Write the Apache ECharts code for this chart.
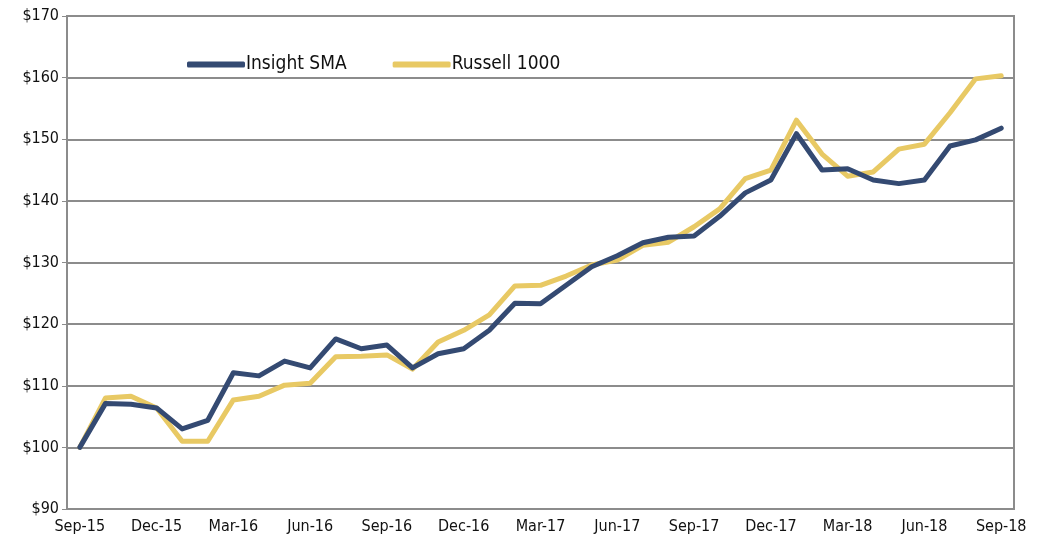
<!DOCTYPE html>
<html>
<head>
<meta charset="utf-8">
<script src="https://cdn.jsdelivr.net/npm/echarts@6/dist/echarts.min.js"></script>
<style>
  html, body { margin: 0; padding: 0; background: #fff; }
  #main { width: 1044px; height: 541px; }
</style>
</head>
<body>
<div id="main"></div>
<script>
var months = [
    'Sep-15', 'Oct-15', 'Nov-15', 'Dec-15', 'Jan-16', 'Feb-16', 'Mar-16', 'Apr-16', 'May-16',
    'Jun-16', 'Jul-16', 'Aug-16', 'Sep-16', 'Oct-16', 'Nov-16', 'Dec-16', 'Jan-17', 'Feb-17',
    'Mar-17', 'Apr-17', 'May-17', 'Jun-17', 'Jul-17', 'Aug-17', 'Sep-17', 'Oct-17', 'Nov-17',
    'Dec-17', 'Jan-18', 'Feb-18', 'Mar-18', 'Apr-18', 'May-18', 'Jun-18', 'Jul-18', 'Aug-18',
    'Sep-18'
];

var insightSma = [
    100, 107.1, 107.0, 106.4, 103.0, 104.4, 112.1, 111.6, 114.0,
    112.9, 117.6, 116.0, 116.6, 112.9, 115.2, 116.0, 119.0, 123.4,
    123.3, 126.3, 129.3, 131.1, 133.2, 134.1, 134.3, 137.5, 141.3,
    143.4, 150.9, 145.0, 145.2, 143.4, 142.8, 143.4, 148.9, 149.9,
    151.8
];

var russell1000 = [
    100, 108.0, 108.3, 106.4, 101.0, 101.0, 107.7, 108.3, 110.1,
    110.4, 114.7, 114.8, 115.0, 112.7, 117.1, 119.0, 121.5, 126.2,
    126.3, 127.8, 129.6, 130.4, 132.8, 133.3, 135.8, 138.7, 143.6,
    145.0, 153.1, 147.6, 144.0, 144.7, 148.4, 149.2, 154.3, 159.8,
    160.3
];

var font = '"Liberation Sans Narrow", "DejaVu Sans Condensed", Roboto, sans-serif';
var gray = '#8c8c8c';

var myChart = echarts.init(document.getElementById('main'));

// 指定图表的配置项和数据
var option = {
    backgroundColor: '#fff',
    animation: false,
    color: ['#344a72', '#e8c964'],
    grid: {
        left: 67,
        right: 30,
        top: 16,
        bottom: 32,
        show: true,
        borderColor: gray,
        borderWidth: 2
    },
    legend: {
        left: 182,
        top: 50,
        itemWidth: 58,
        itemHeight: 6,
        itemGap: 46,
        icon: 'roundRect',
        textStyle: { fontFamily: font, fontSize: 19, color: '#111', padding: [0, 0, 0, -4] },
        data: ['Insight SMA', 'Russell 1000']
    },
    xAxis: {
        type: 'category',
        boundaryGap: true,
        data: months,
        axisLine: { lineStyle: { color: gray, width: 2 } },
        axisTick: { interval: 2, length: 5, lineStyle: { color: gray, width: 1 } },
        axisLabel: { interval: 2, fontFamily: font, fontSize: 16, color: '#111', margin: 10 },
        splitLine: { show: false }
    },
    yAxis: {
        type: 'value',
        min: 90,
        max: 170,
        interval: 10,
        axisLine: { show: true, lineStyle: { color: gray, width: 2 } },
        axisTick: { show: true, length: 5, lineStyle: { color: gray, width: 1 } },
        axisLabel: {
            fontFamily: font, fontSize: 16, color: '#111', margin: 8,
            formatter: function (v) { return '$' + v; }
        },
        splitLine: { lineStyle: { color: gray, width: 2 } }
    },
    series: [
        {
            name: 'Insight SMA',
            type: 'line',
            data: insightSma,
            symbol: 'none',
            lineStyle: { width: 5, cap: 'round', join: 'round' },
            z: 3
        },
        {
            name: 'Russell 1000',
            type: 'line',
            data: russell1000,
            symbol: 'none',
            lineStyle: { width: 5, cap: 'round', join: 'round' },
            z: 2
        }
    ]
};
myChart.setOption(option);
</script>
</body>
</html>
